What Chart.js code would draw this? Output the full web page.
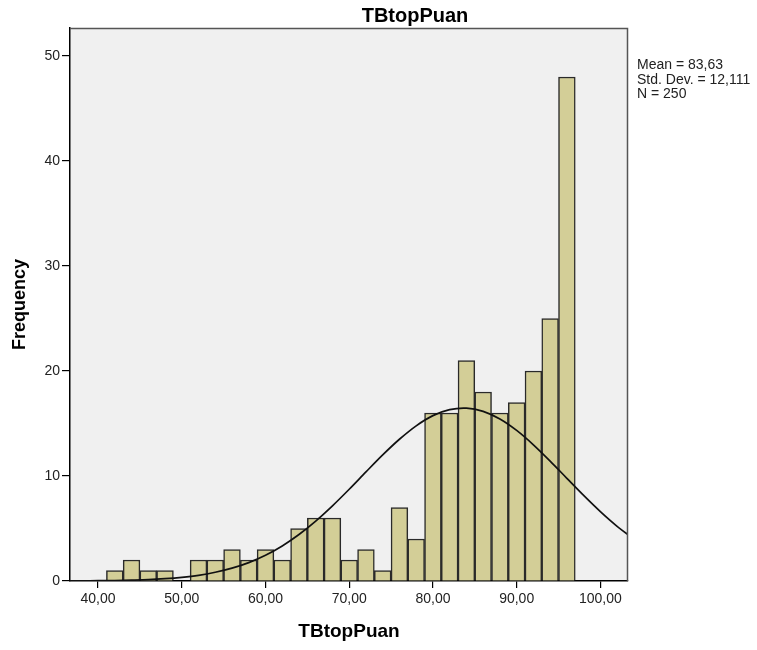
<!DOCTYPE html>
<html>
<head>
<meta charset="utf-8">
<script src="https://cdn.jsdelivr.net/npm/chart.js@4"></script>
<style>
html,body{margin:0;padding:0;background:#fff;}
canvas{display:block;}
</style>
</head>
<body>
<canvas id="c" width="757" height="650"></canvas>
<script>
// Histogram bins (centres of 2-unit bins) and frequencies
const binCenters = [42,44,46,48,50,52,54,56,58,60,62,64,66,68,70,72,74,76,78,80,82,84,86,88,90,92,94,96];
const frequencies = [1,2,1,1,0,2,2,3,2,3,2,5,6,6,2,3,1,7,4,16,16,21,18,16,17,20,25,48];
// Normal curve
const curveX = [36,38,40,42,44,46,48,50,52,54,56,58,60,62,64,66,68,70,72,74,76,78,80,82,84,86,88,90,92,94,96,98,100,102,104];
const curveY = [0.01,0.01,0.03,0.04,0.08,0.13,0.22,0.35,0.54,0.83,1.22,1.75,2.45,3.34,4.43,5.71,7.16,8.74,10.39,12.01,13.50,14.78,15.75,16.32,16.46,16.16,15.43,14.34,12.97,11.42,9.78,8.15,6.61,5.21,4.00];
const xTickValues = [40,50,60,70,80,90,100];
const xTickLabels = ["40,00","50,00","60,00","70,00","80,00","90,00","100,00"];
const yTickValues = [0,10,20,30,40,50];
const chartTitle = "TBtopPuan";
const xTitle = "TBtopPuan";
const yTitle = "Frequency";
const statsLines = ["Mean = 83,63","Std. Dev. = 12,111","N = 250"];

const FONT = "'Liberation Sans', Arial, sans-serif";

const bgPlugin = {
  id: 'bg',
  beforeDraw(chart) {
    const {ctx, chartArea: a} = chart;
    ctx.save();
    ctx.fillStyle = '#f0f0f0';
    ctx.fillRect(a.left, a.top, a.right - a.left, a.bottom - a.top);
    ctx.restore();
  },
  afterDraw(chart) {
    const {ctx, chartArea: a} = chart;
    ctx.save();
    ctx.strokeStyle = '#555';
    ctx.lineWidth = 1.5;
    ctx.beginPath();
    ctx.moveTo(a.left, a.top + 0.5);
    ctx.lineTo(a.right - 0.5, a.top + 0.5);
    ctx.lineTo(a.right - 0.5, a.bottom);
    ctx.stroke();
    ctx.fillStyle = '#000';
    ctx.textAlign = 'center';
    ctx.textBaseline = 'alphabetic';
    ctx.font = "bold 20px " + FONT;
    ctx.fillText(chartTitle, 415, 22);
    ctx.textAlign = 'left';
    ctx.font = "14px " + FONT;
    ctx.fillStyle = '#222';
    statsLines.forEach((t, i) => ctx.fillText(t, 637, 69 + i * 14.5));
    ctx.restore();
  }
};

new Chart(document.getElementById('c'), {
  data: {
    datasets: [
      {
        type: 'line',
        data: curveX.map((x, i) => ({x, y: curveY[i]})),
        borderColor: '#111',
        borderWidth: 1.7,
        pointRadius: 0,
        tension: 0.3,
        fill: false,
        order: 0
      },
      {
        type: 'bar',
        data: binCenters.map((x, i) => ({x, y: frequencies[i]})),
        backgroundColor: '#d3ce97',
        borderColor: '#2a2a2a',
        borderWidth: 1.5,
        borderSkipped: 'bottom',
        barPercentage: 1,
        categoryPercentage: 1,
        grouped: false,
        order: 1
      }
    ]
  },
  options: {
    responsive: false,
    animation: false,
    devicePixelRatio: 1,
    layout: { padding: { left: 0, top: 28, right: 129, bottom: 0 } },
    plugins: { legend: { display: false }, tooltip: { enabled: false }, title: { display: false } },
    scales: {
      x: {
        type: 'linear',
        offset: false,
        min: 36.65,
        max: 103.3,
        afterFit(s) { s.height = 69; },
        afterBuildTicks(s) { s.ticks = xTickValues.map(v => ({value: v})); },
        ticks: {
          callback: (v) => xTickLabels[xTickValues.indexOf(v)],
          font: { family: FONT, size: 14 },
          color: '#222',
          padding: 3,
          maxRotation: 0,
          autoSkip: false
        },
        grid: { offset: false, drawOnChartArea: false, drawTicks: true, tickLength: 7, color: '#000', lineWidth: 1.2 },
        border: { display: true, color: '#000', width: 1.5 },
        title: { display: true, text: xTitle, font: { family: FONT, size: 19, weight: 'bold' }, color: '#000', padding: { top: 0, bottom: 7 } }
      },
      y: {
        type: 'linear',
        min: 0,
        max: 52.67,
        afterFit(s) { s.width = 70; },
        afterBuildTicks(s) { s.ticks = yTickValues.map(v => ({value: v})); },
        ticks: {
          font: { family: FONT, size: 14 },
          color: '#222',
          padding: 2
        },
        grid: { offset: false, drawOnChartArea: false, drawTicks: true, tickLength: 8, color: '#000', lineWidth: 1.2 },
        border: { display: true, color: '#000', width: 1.5 },
        title: { display: true, text: yTitle, font: { family: FONT, size: 18, weight: 'bold' }, color: '#000', padding: { top: 9, bottom: 0 } }
      }
    }
  },
  plugins: [bgPlugin]
});
</script>
</body>
</html>
